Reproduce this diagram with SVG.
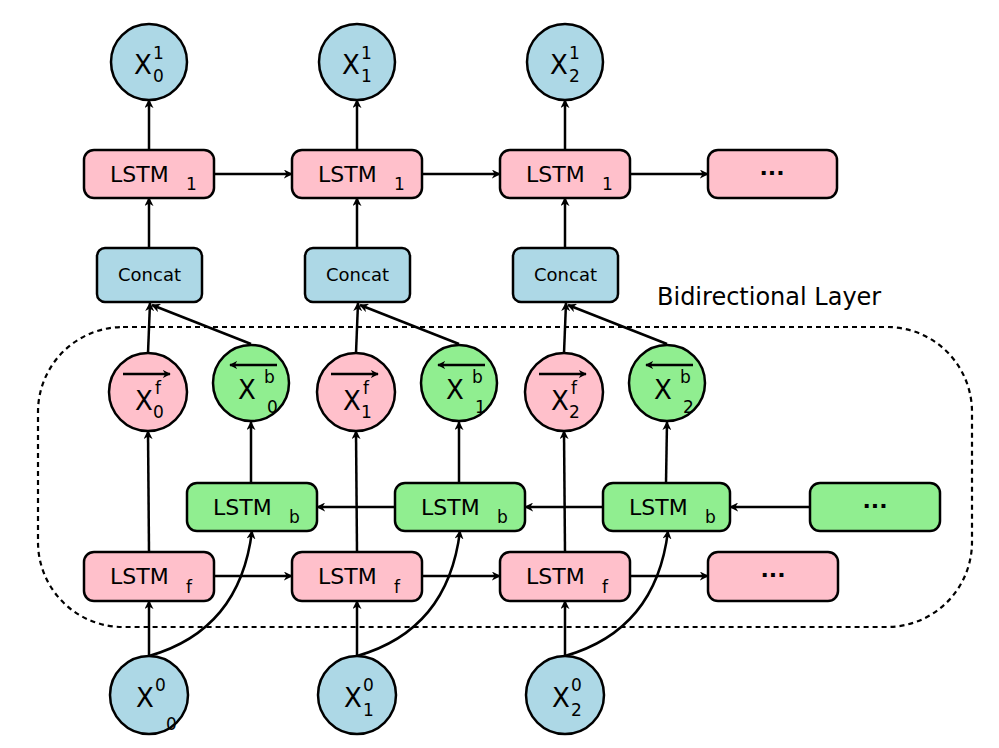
<svg xmlns="http://www.w3.org/2000/svg" width="999" height="748" viewBox="0 0 999 748">
<style>
text{font-family:"DejaVu Sans",sans-serif;fill:#000}
.c{stroke:#000;stroke-width:2.5}
.blue{fill:#add8e6}.pink{fill:#ffc0cb}.green{fill:#90ee90}
.l{font-size:22px}.x{font-size:26px}.s{font-size:17px}
.e{stroke:#000;stroke-width:2.5;fill:none;marker-end:url(#a)}
</style>
<defs><marker id="a" viewBox="0 0 10 10" refX="9" refY="5" markerWidth="9" markerHeight="9" markerUnits="userSpaceOnUse" orient="auto"><path d="M0,0 L10,5 L0,10 L3,5 Z" fill="#000"/></marker>
<marker id="a2" viewBox="0 0 10 10" refX="9" refY="5" markerWidth="8" markerHeight="8" markerUnits="userSpaceOnUse" orient="auto"><path d="M0,0 L10,5 L0,10 L3,5 Z" fill="#000"/></marker></defs>
<rect x="38" y="327" width="934" height="300" rx="85" fill="none" stroke="#000" stroke-width="2.2" stroke-dasharray="5,4"/>
<text x="657" y="305" style="font-size:24px">Bidirectional  Layer</text>
<g id="connectors">
<path class="e" d="M149,656 V601"/><path class="e" d="M357,656 V601"/><path class="e" d="M565,656 V601"/>
<path class="e" d="M149,656 Q240,630 252,531"/><path class="e" d="M357,656 Q448,630 460,531"/><path class="e" d="M565,656 Q656,630 668,531"/>
<path class="e" d="M149,552 L148,431"/><path class="e" d="M357,552 L356,431"/><path class="e" d="M565,552 L564,431"/>
<path class="e" d="M251,483 V422"/><path class="e" d="M459,483 V422"/><path class="e" d="M666,483 L667,422"/>
<path class="e" d="M148,353 L150,303"/><path class="e" d="M356,353 L358,303"/><path class="e" d="M564,353 L566,303"/>
<path class="e" d="M251,344 L152,305"/><path class="e" d="M459,344 L360,305"/><path class="e" d="M667,344 L568,305"/>
<path class="e" d="M149,248 V198"/><path class="e" d="M357,248 V198"/><path class="e" d="M565,248 V198"/>
<path class="e" d="M149,150 V100"/><path class="e" d="M357,150 V100"/><path class="e" d="M565,150 V100"/>
<path class="e" d="M214,174 H292"/><path class="e" d="M422,174 H500"/><path class="e" d="M630,174 H708"/>
<path class="e" d="M214,576 H292"/><path class="e" d="M422,576 H500"/><path class="e" d="M630,576 H708"/>
<path class="e" d="M395,507 H317"/><path class="e" d="M603,507 H525"/><path class="e" d="M810,507 H730"/>
</g>
<g id="x1_0"><circle class="c blue" cx="149" cy="62" r="38"/><text class="x" x="134" y="74">X</text><text class="s" x="153" y="59">1</text><text class="s" x="153" y="82">0</text></g>
<g id="x1_1"><circle class="c blue" cx="357" cy="62" r="38"/><text class="x" x="342" y="74">X</text><text class="s" x="361" y="59">1</text><text class="s" x="361" y="82">1</text></g>
<g id="x1_2"><circle class="c blue" cx="565" cy="62" r="38"/><text class="x" x="550" y="74">X</text><text class="s" x="569" y="59">1</text><text class="s" x="569" y="82">2</text></g>
<g id="lstm1_0"><rect class="c pink" x="84" y="150" width="130" height="48" rx="10"/><text class="l" x="110" y="182">LSTM</text><text class="s" x="186" y="190">1</text></g>
<g id="lstm1_1"><rect class="c pink" x="292" y="150" width="130" height="48" rx="10"/><text class="l" x="318" y="182">LSTM</text><text class="s" x="394" y="190">1</text></g>
<g id="lstm1_2"><rect class="c pink" x="500" y="150" width="130" height="48" rx="10"/><text class="l" x="526" y="182">LSTM</text><text class="s" x="602" y="190">1</text></g>
<g id="lstm1_3"><rect class="c pink" x="708" y="150" width="129" height="48" rx="10"/><text class="l" x="772" y="180" text-anchor="middle" font-weight="bold">···</text></g>
<g id="concat0"><rect class="c blue" x="97" y="248" width="105" height="54" rx="8"/><text x="149.5" y="281" text-anchor="middle" style="font-size:18px">Concat</text></g>
<g id="concat1"><rect class="c blue" x="305" y="248" width="105" height="54" rx="8"/><text x="357.5" y="281" text-anchor="middle" style="font-size:18px">Concat</text></g>
<g id="concat2"><rect class="c blue" x="513" y="248" width="105" height="54" rx="8"/><text x="565.5" y="281" text-anchor="middle" style="font-size:18px">Concat</text></g>
<g id="xf0"><circle class="c pink" cx="148" cy="392" r="39"/><path d="M123,374 H170" stroke="#000" stroke-width="2.5" marker-end="url(#a2)"/><text class="x" x="135" y="410">X</text><text class="s" x="155" y="394">f</text><text class="s" x="153" y="418">0</text></g>
<g id="xf1"><circle class="c pink" cx="356" cy="392" r="39"/><path d="M331,374 H378" stroke="#000" stroke-width="2.5" marker-end="url(#a2)"/><text class="x" x="343" y="410">X</text><text class="s" x="363" y="394">f</text><text class="s" x="361" y="418">1</text></g>
<g id="xf2"><circle class="c pink" cx="564" cy="392" r="39"/><path d="M539,374 H586" stroke="#000" stroke-width="2.5" marker-end="url(#a2)"/><text class="x" x="551" y="410">X</text><text class="s" x="571" y="394">f</text><text class="s" x="569" y="418">2</text></g>
<g id="xb0"><circle class="c green" cx="251" cy="383" r="38"/><path d="M277,365 H230" stroke="#000" stroke-width="2.5" marker-end="url(#a2)"/><text class="x" x="238" y="399">X</text><text class="s" x="264" y="383">b</text><text class="s" x="267" y="413">0</text></g>
<g id="xb1"><circle class="c green" cx="459" cy="383" r="38"/><path d="M485,365 H438" stroke="#000" stroke-width="2.5" marker-end="url(#a2)"/><text class="x" x="446" y="399">X</text><text class="s" x="472" y="383">b</text><text class="s" x="475" y="413">1</text></g>
<g id="xb2"><circle class="c green" cx="667" cy="383" r="38"/><path d="M693,365 H646" stroke="#000" stroke-width="2.5" marker-end="url(#a2)"/><text class="x" x="654" y="399">X</text><text class="s" x="680" y="383">b</text><text class="s" x="683" y="413">2</text></g>
<g id="lstmb0"><rect class="c green" x="187" y="483" width="130" height="48" rx="10"/><text class="l" x="213" y="515">LSTM</text><text class="s" x="289" y="523">b</text></g>
<g id="lstmb1"><rect class="c green" x="395" y="483" width="130" height="48" rx="10"/><text class="l" x="421" y="515">LSTM</text><text class="s" x="497" y="523">b</text></g>
<g id="lstmb2"><rect class="c green" x="603" y="483" width="127" height="48" rx="10"/><text class="l" x="629" y="515">LSTM</text><text class="s" x="705" y="523">b</text></g>
<g id="lstmb3"><rect class="c green" x="810" y="483" width="130" height="48" rx="10"/><text class="l" x="875" y="513" text-anchor="middle" font-weight="bold">···</text></g>
<g id="lstmf0"><rect class="c pink" x="84" y="552" width="130" height="49" rx="10"/><text class="l" x="110" y="584">LSTM</text><text class="s" x="186" y="593">f</text></g>
<g id="lstmf1"><rect class="c pink" x="292" y="552" width="130" height="49" rx="10"/><text class="l" x="318" y="584">LSTM</text><text class="s" x="394" y="593">f</text></g>
<g id="lstmf2"><rect class="c pink" x="500" y="552" width="130" height="49" rx="10"/><text class="l" x="526" y="584">LSTM</text><text class="s" x="602" y="593">f</text></g>
<g id="lstmf3"><rect class="c pink" x="708" y="552" width="130" height="49" rx="10"/><text class="l" x="773" y="582" text-anchor="middle" font-weight="bold">···</text></g>
<g id="x0_0"><circle class="c blue" cx="149" cy="695" r="39"/><text class="x" x="136" y="707">X</text><text class="s" x="155" y="691">0</text><text class="s" x="166" y="730">0</text></g>
<g id="x0_1"><circle class="c blue" cx="357" cy="695" r="39"/><text class="x" x="344" y="707">X</text><text class="s" x="363" y="691">0</text><text class="s" x="363" y="716">1</text></g>
<g id="x0_2"><circle class="c blue" cx="565" cy="695" r="39"/><text class="x" x="552" y="707">X</text><text class="s" x="571" y="691">0</text><text class="s" x="571" y="716">2</text></g>
</svg>
